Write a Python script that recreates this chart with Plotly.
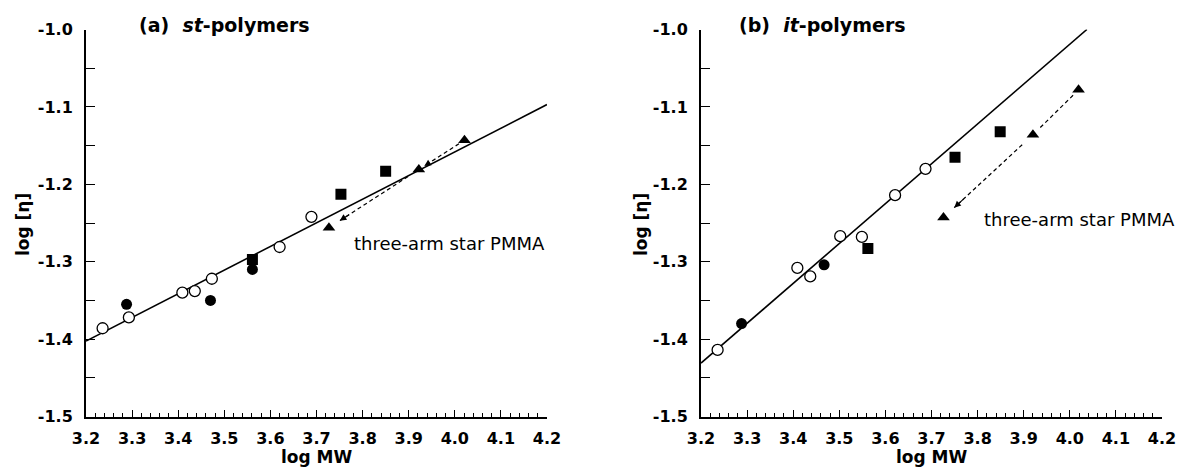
import plotly.graph_objects as go

# ---------------- data: panel (a) st-polymers ----------------
a_open_x = [3.236, 3.293, 3.409, 3.436, 3.473, 3.620, 3.689]
a_open_y = [-1.386, -1.372, -1.340, -1.338, -1.322, -1.281, -1.242]
a_fill_x = [3.288, 3.470, 3.561]
a_fill_y = [-1.355, -1.350, -1.310]
a_sq_x = [3.561, 3.753, 3.850]
a_sq_y = [-1.297, -1.213, -1.183]
a_tri_x = [3.727, 3.922, 4.021]
a_tri_y = [-1.256, -1.181, -1.143]
a_fit_x = [3.2, 4.2]
a_fit_y = [-1.4025, -1.097]

# ---------------- data: panel (b) it-polymers ----------------
b_open_x = [3.236, 3.409, 3.437, 3.502, 3.549, 3.621, 3.687]
b_open_y = [-1.414, -1.308, -1.319, -1.267, -1.268, -1.214, -1.180]
b_fill_x = [3.288, 3.467]
b_fill_y = [-1.380, -1.304]
b_sq_x = [3.562, 3.751, 3.849]
b_sq_y = [-1.283, -1.165, -1.132]
b_tri_x = [3.726, 3.920, 4.019]
b_tri_y = [-1.243, -1.136, -1.078]
b_fit_x = [3.2, 4.037]
b_fit_y = [-1.431, -1.0]

# ---------------- ticks / labels ----------------
x_tick_vals = [3.2, 3.3, 3.4, 3.5, 3.6, 3.7, 3.8, 3.9, 4.0, 4.1, 4.2]
x_tick_text = ["3.2", "3.3", "3.4", "3.5", "3.6", "3.7", "3.8", "3.9", "4.0", "4.1", "4.2"]
y_tick_vals = [-1.5, -1.4, -1.3, -1.2, -1.1, -1.0]
y_tick_text = ["-1.5", "-1.4", "-1.3", "-1.2", "-1.1", "-1.0"]
panel_titles = ["<b>(a)\u00a0\u00a0<i>st</i>-polymers</b>", "<b>(b)\u00a0\u00a0<i>it</i>-polymers</b>"]
x_title = "<b>log MW</b>"
y_title = "<b>log [η]</b>"
star_label = "three-arm star PMMA"

FONT = "DejaVu Sans"
BLACK = "#000000"
# the page body has an 8px default margin; the figure fills the rest of the 1186x468 window
OFF = 8
W, H = 1186 - OFF, 468 - OFF


def px(v):
    return (v - OFF) / W


def py(v):
    return 1 - (v - OFF) / H


fig = go.Figure()

panels = [
    dict(ox=a_open_x, oy=a_open_y, fx=a_fill_x, fy=a_fill_y, sx=a_sq_x, sy=a_sq_y,
         tx=a_tri_x, ty=a_tri_y, lx=a_fit_x, ly=a_fit_y, xa="x", ya="y",
         dom=[px(86), px(547)], title_px=137, ytitle_px=23,
         label_x=3.776, label_y=-1.277, arrows=[True, True]),
    dict(ox=b_open_x, oy=b_open_y, fx=b_fill_x, fy=b_fill_y, sx=b_sq_x, sy=b_sq_y,
         tx=b_tri_x, ty=b_tri_y, lx=b_fit_x, ly=b_fit_y, xa="x2", ya="y2",
         dom=[px(701), px(1162)], title_px=737, ytitle_px=641,
         label_x=3.809, label_y=-1.246, arrows=[True, False]),
]

annotations = []
for i, p in enumerate(panels):
    xa, ya = p["xa"], p["ya"]
    # fit line
    fig.add_trace(go.Scatter(x=p["lx"], y=p["ly"], mode="lines", xaxis=xa, yaxis=ya,
                             line=dict(color=BLACK, width=1.6), showlegend=False, hoverinfo="skip"))
    # dashed connectors between triangles (upper -> lower)
    tx, ty = p["tx"], p["ty"]
    for k in range(len(tx) - 1):
        x_lo, y_lo, x_up, y_up = tx[k], ty[k], tx[k + 1], ty[k + 1]
        s, e = 0.12, 0.88
        xs = x_up + s * (x_lo - x_up)
        ys = y_up + s * (y_lo - y_up)
        xe = x_up + e * (x_lo - x_up)
        ye = y_up + e * (y_lo - y_up)
        fig.add_trace(go.Scatter(x=[xs, xe], y=[ys, ye], mode="lines", xaxis=xa, yaxis=ya,
                                 line=dict(color=BLACK, width=1.2, dash="4px,3px"),
                                 showlegend=False, hoverinfo="skip"))
        if p["arrows"][k]:
            xt = x_up + (e - 0.12) * (x_lo - x_up)
            yt = y_up + (e - 0.12) * (y_lo - y_up)
            annotations.append(dict(x=xe, y=ye, ax=xt, ay=yt, xref=xa, yref=ya,
                                    axref=xa, ayref=ya, showarrow=True, arrowhead=2,
                                    arrowsize=1.2, arrowwidth=1.1, arrowcolor=BLACK, text=""))
    # open circles
    fig.add_trace(go.Scatter(x=p["ox"], y=p["oy"], mode="markers", xaxis=xa, yaxis=ya,
                             marker=dict(symbol="circle", size=11, color="white",
                                         line=dict(color=BLACK, width=1.3)),
                             showlegend=False))
    # filled circles
    fig.add_trace(go.Scatter(x=p["fx"], y=p["fy"], mode="markers", xaxis=xa, yaxis=ya,
                             marker=dict(symbol="circle", size=11, color=BLACK,
                                         line=dict(color=BLACK, width=0)),
                             showlegend=False))
    # filled squares
    fig.add_trace(go.Scatter(x=p["sx"], y=p["sy"], mode="markers", xaxis=xa, yaxis=ya,
                             marker=dict(symbol="square", size=11, color=BLACK,
                                         line=dict(color=BLACK, width=0)),
                             showlegend=False))
    # filled triangles
    fig.add_trace(go.Scatter(x=tx, y=ty, mode="markers", xaxis=xa, yaxis=ya,
                             marker=dict(symbol="triangle-up", size=11, color=BLACK,
                                         line=dict(color=BLACK, width=0)),
                             showlegend=False))
    # panel title
    annotations.append(dict(x=px(p["title_px"]), y=py(25), xref="paper", yref="paper",
                            text=panel_titles[i], showarrow=False, xanchor="left", yanchor="middle",
                            font=dict(family=FONT, size=19, color=BLACK)))
    # axis titles
    annotations.append(dict(x=(p["dom"][0] + p["dom"][1]) / 2, y=py(457), xref="paper",
                            yref="paper", text=x_title, showarrow=False, xanchor="center",
                            yanchor="middle", font=dict(family=FONT, size=17, color=BLACK)))
    annotations.append(dict(x=px(p["ytitle_px"]), y=py(225), xref="paper", yref="paper",
                            text=y_title, showarrow=False, textangle=-90, xanchor="center",
                            yanchor="middle", font=dict(family=FONT, size=17, color=BLACK)))
    # star label
    annotations.append(dict(x=p["label_x"], y=p["label_y"], xref=xa, yref=ya, text=star_label,
                            showarrow=False, xanchor="left", yanchor="middle",
                            font=dict(family=FONT, size=18, color=BLACK)))

common_x = dict(range=[3.2, 4.2], showgrid=False, zeroline=False, showline=True,
                linecolor=BLACK, linewidth=2, ticks="inside", ticklen=7, tickwidth=1.3,
                tickcolor=BLACK, tickvals=x_tick_vals, ticktext=x_tick_text,
                tickfont=dict(family=FONT, size=16, color=BLACK, weight="bold"),
                ticklabelstandoff=6, automargin=False,
                minor=dict(dtick=0.02, tick0=3.2, ticks="inside", ticklen=4, tickwidth=1,
                           tickcolor=BLACK, showgrid=False),
                mirror=False)
common_y = dict(range=[-1.5, -1.0], showgrid=False, zeroline=False, showline=True,
                linecolor=BLACK, linewidth=2, ticks="inside", ticklen=9, tickwidth=1.3,
                tickcolor=BLACK, tickvals=y_tick_vals, ticktext=y_tick_text,
                tickfont=dict(family=FONT, size=16, color=BLACK, weight="bold"),
                ticklabelstandoff=8, automargin=False,
                minor=dict(dtick=0.05, tick0=-1.5, ticks="inside", ticklen=9, tickwidth=1,
                           tickcolor=BLACK, showgrid=False),
                mirror=False)

y_dom = [py(416.5), py(29.5)]
fig.update_layout(
    width=W, height=H, autosize=False,
    margin=dict(l=0, r=0, t=0, b=0),
    paper_bgcolor="white", plot_bgcolor="white",
    showlegend=False,
    xaxis=dict(common_x, domain=panels[0]["dom"], anchor="y"),
    yaxis=dict(common_y, domain=y_dom, anchor="x"),
    xaxis2=dict(common_x, domain=panels[1]["dom"], anchor="y2"),
    yaxis2=dict(common_y, domain=y_dom, anchor="x2"),
    annotations=annotations,
)

fig.write_html("out.html")
